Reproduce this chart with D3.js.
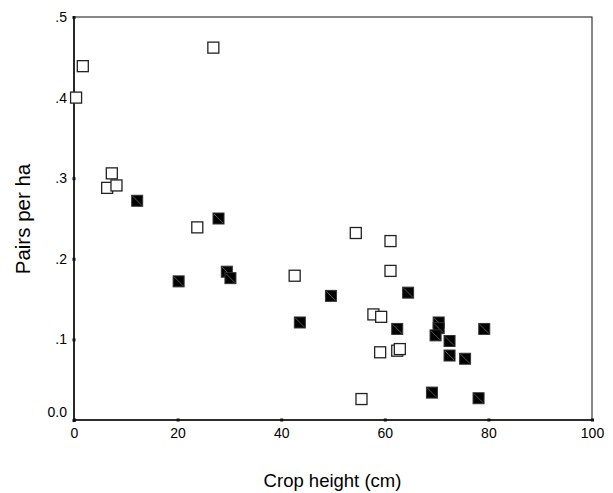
<!DOCTYPE html>
<html><head><meta charset="utf-8">
<script src="https://cdn.jsdelivr.net/npm/d3@7"></script>
<style>body{margin:0;background:#fff}svg{display:block}text{font-family:"Liberation Sans",Arial,sans-serif;fill:#000}</style>
</head><body><svg id="c" width="613" height="493"></svg>
<script>
const openX = [0.4, 1.7, 26.9, 7.3, 6.4, 8.2, 23.8, 42.6, 54.4, 61.1, 61.1, 57.8, 59.3, 59.1, 62.4, 62.9, 55.5];
const openY = [0.400, 0.439, 0.462, 0.306, 0.288, 0.291, 0.239, 0.179, 0.232, 0.222, 0.185, 0.131, 0.128, 0.084, 0.086, 0.088, 0.026];
const filledX = [12.2, 27.9, 20.2, 29.5, 30.2, 43.6, 49.6, 64.5, 62.4, 70.4, 70.4, 69.8, 72.5, 72.5, 75.5, 79.2, 69.1, 78.1];
const filledY = [0.272, 0.250, 0.172, 0.184, 0.176, 0.121, 0.154, 0.158, 0.113, 0.121, 0.114, 0.105, 0.098, 0.080, 0.076, 0.113, 0.034, 0.027];
const xTicks = [0, 20, 40, 60, 80, 100];
const yTicks = [0, 0.1, 0.2, 0.3, 0.4, 0.5];
const yTickLabels = ["0.0", ".1", ".2", ".3", ".4", ".5"];

const svg = d3.select("#c");
const x = d3.scaleLinear().domain([0, 100]).range([74, 592]);
const y = d3.scaleLinear().domain([0, 0.5]).range([420, 17]);

// frame
svg.append("rect").attr("x", 74).attr("y", 17).attr("width", 518).attr("height", 403)
  .attr("fill", "none").attr("stroke", "#111").attr("stroke-width", 1);
svg.append("line").attr("x1", 74).attr("x2", 74).attr("y1", 17).attr("y2", 421).attr("stroke", "#111").attr("stroke-width", 1.6);
svg.append("line").attr("x1", 73).attr("x2", 592).attr("y1", 420).attr("y2", 420).attr("stroke", "#111").attr("stroke-width", 1.6);

const ff = '"Liberation Sans",Arial,sans-serif';
// x axis ticks
const xa = svg.append("g").attr("transform", "translate(0,420)")
  .call(d3.axisBottom(x).tickValues(xTicks).tickSize(0).tickPadding(8));
xa.select(".domain").remove();
xa.selectAll("text").attr("font-size", 14).style("font-family", ff);
xa.selectAll(".tick").append("rect").attr("x", -1.5).attr("y", -1.5).attr("width", 3).attr("height", 3).attr("fill", "#111");

// y axis ticks
const ya = svg.append("g").attr("transform", "translate(74,0)")
  .call(d3.axisLeft(y).tickValues(yTicks).tickSize(0).tickPadding(7).tickFormat((d, i) => yTickLabels[i]));
ya.select(".domain").remove();
ya.selectAll("text").attr("font-size", 14).style("font-family", ff)
  .attr("dy", (d) => d === 0 ? "-0.25em" : "0.32em");
ya.selectAll(".tick").append("rect").attr("x", -1.5).attr("y", -1.5).attr("width", 3).attr("height", 3).attr("fill", "#111");

// axis titles
svg.append("text").attr("x", 332.5).attr("y", 487).attr("text-anchor", "middle").attr("font-size", 18.5).text("Crop height (cm)");
svg.append("text").attr("transform", "translate(30,219) rotate(-90)").attr("text-anchor", "middle").attr("font-size", 20.5).text("Pairs per ha");

const s = 11;
const openData = openX.map((v, i) => [v, openY[i]]);
const filledData = filledX.map((v, i) => [v, filledY[i]]);

svg.append("g").selectAll("rect").data(openData).join("rect")
  .attr("x", d => x(d[0]) - s / 2).attr("y", d => y(d[1]) - s / 2)
  .attr("width", s).attr("height", s)
  .attr("fill", "#fff").attr("stroke", "#222").attr("stroke-width", 1.3);

const fg = svg.append("g").selectAll("g").data(filledData).join("g")
  .attr("transform", d => `translate(${x(d[0])},${y(d[1])})`);
fg.append("rect").attr("x", -s / 2).attr("y", -s / 2).attr("width", s).attr("height", s)
  .attr("fill", "#000").attr("stroke", "#333").attr("stroke-width", 1);
fg.append("line").attr("x1", -s / 2 + 1).attr("y1", -s / 2 + 1).attr("x2", s / 2 - 1).attr("y2", s / 2 - 1)
  .attr("stroke", "#777").attr("stroke-width", 0.7);
</script></body></html>
